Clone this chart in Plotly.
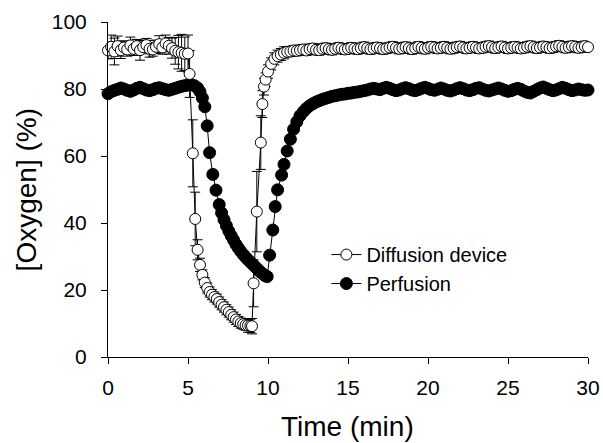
import plotly.graph_objects as go

# ---------------- data ----------------
diff_time = [
    0.0, 0.2, 0.4, 0.6, 0.8, 1.0, 1.2, 1.4, 1.6, 1.8,
    2.0, 2.2, 2.4, 2.6, 2.8, 3.0, 3.2, 3.4, 3.6, 3.8,
    4.0, 4.2, 4.4, 4.6, 4.8, 5.0,
    5.1, 5.3, 5.45, 5.6, 5.75, 5.9, 6.05, 6.2, 6.35, 6.5,
    6.65, 6.8, 6.95, 7.1, 7.25, 7.4, 7.55, 7.7, 7.85, 8.0,
    8.15, 8.3, 8.45, 8.6, 8.75, 8.9, 9.0,
    9.1, 9.3, 9.55, 9.65, 9.75, 9.85, 10.0, 10.2, 10.4, 10.6,
    10.8, 11.0, 11.2, 11.4, 11.6, 11.8,
    12.0, 12.2, 12.4, 12.6, 12.8, 13.0, 13.2, 13.4, 13.6, 13.8,
    14.0, 14.2, 14.4, 14.6, 14.8, 15.0, 15.2, 15.4, 15.6, 15.8,
    16.0, 16.2, 16.4, 16.6, 16.8, 17.0, 17.2, 17.4, 17.6, 17.8,
    18.0, 18.2, 18.4, 18.6, 18.8, 19.0, 19.2, 19.4, 19.6, 19.8,
    20.0, 20.2, 20.4, 20.6, 20.8, 21.0, 21.2, 21.4, 21.6, 21.8,
    22.0, 22.2, 22.4, 22.6, 22.8, 23.0, 23.2, 23.4, 23.6, 23.8,
    24.0, 24.2, 24.4, 24.6, 24.8, 25.0, 25.2, 25.4, 25.6, 25.8,
    26.0, 26.2, 26.4, 26.6, 26.8, 27.0, 27.2, 27.4, 27.6, 27.8,
    28.0, 28.2, 28.4, 28.6, 28.8, 29.0, 29.2, 29.4, 29.6, 29.8,
    30.0,
]
diff_oxygen = [
    91.5, 92.6, 91.2, 92.8, 91.6, 92.4, 91.8, 93.0, 92.0, 92.8,
    91.6, 92.5, 93.1, 92.0, 91.8, 92.6, 93.4, 92.4, 93.6, 92.9,
    92.2, 91.4, 91.0, 90.8, 90.5, 90.6,
    84.5, 60.8, 41.2, 32.0, 27.5, 24.5, 22.2, 20.6, 19.4, 18.6,
    17.9, 17.3, 16.4, 15.6, 14.9, 14.1, 13.4, 12.6, 11.9, 11.2,
    10.6, 10.1, 9.8, 9.5, 9.4, 9.3, 9.2,
    22.0, 43.4, 64.0, 75.5, 80.7, 82.8, 85.2, 87.5, 89.0, 89.8,
    90.3, 90.8, 91.1, 91.2, 91.5, 91.4,
    91.6, 91.8, 91.5, 91.9, 92.1, 91.7, 91.6, 92.0, 92.2, 91.9,
    91.7, 92.0, 92.3, 92.1, 91.8, 92.0, 92.3, 92.1, 91.9, 92.2,
    92.5, 92.2, 91.9, 92.1, 92.4, 92.2, 91.9, 92.1, 92.4, 92.6,
    92.3, 92.0, 92.2, 92.5, 92.2, 91.9, 92.2, 92.6, 92.3, 92.0,
    92.3, 92.6, 92.4, 92.1, 92.3, 92.6, 92.3, 92.0, 92.2, 92.5,
    92.7, 92.4, 92.1, 92.3, 92.6, 92.4, 92.1, 92.3, 92.6, 92.8,
    92.5, 92.2, 92.4, 92.7, 92.4, 92.1, 92.3, 92.6, 92.4, 92.1,
    92.3, 92.6, 92.8, 92.5, 92.2, 92.4, 92.7, 92.5, 92.2, 92.4,
    92.7, 92.9, 92.6, 92.3, 92.5, 92.8, 92.6, 92.3, 92.5, 92.8,
    92.5,
]
diff_error = [
    2.5, 3.5, 4.0, 3.0, 2.5, 2.0, 2.0, 2.5, 2.0, 2.0,
    3.0, 2.0, 2.0, 2.5, 2.0, 2.0, 2.5, 2.0, 2.5, 2.5,
    3.0, 4.0, 5.0, 5.5, 5.0, 5.5,
    7.0, 10.0, 8.0, 3.0, 2.0, 1.5, 1.5, 1.5, 1.5, 1.5,
    1.5, 1.5, 1.5, 1.5, 1.5, 1.5, 1.5, 1.5, 1.5, 1.5,
    1.5, 1.5, 1.5, 1.5, 2.0, 2.0, 2.3,
    7.0, 12.0, 8.0, 4.0, 2.5, 2.0, 2.0, 1.8, 1.8, 1.8,
    1.8, 1.8, 1.5, 1.5, 1.5, 1.5,
    1.5, 1.5, 1.5, 1.5, 1.5, 1.5, 1.5, 1.5, 1.5, 1.5,
    1.5, 1.5, 1.5, 1.5, 1.5, 1.5, 1.5, 1.5, 1.5, 1.5,
    1.5, 1.5, 1.5, 1.5, 1.5, 1.5, 1.5, 1.5, 1.5, 1.5,
    1.5, 1.5, 1.5, 1.5, 1.5, 1.5, 1.5, 1.5, 1.5, 1.5,
    1.5, 1.5, 1.5, 1.5, 1.5, 1.5, 1.5, 1.5, 1.5, 1.5,
    1.5, 1.5, 1.5, 1.5, 1.5, 1.5, 1.5, 1.5, 1.5, 1.5,
    1.5, 1.5, 1.5, 1.5, 1.5, 1.5, 1.5, 1.5, 1.5, 1.5,
    1.5, 1.5, 1.5, 1.5, 1.5, 1.5, 1.5, 1.5, 1.5, 1.5,
    1.5, 1.5, 1.5, 1.5, 1.5, 1.5, 1.5, 1.5, 1.5, 1.5,
    1.5,
]

perf_time = [
    0.0, 0.2, 0.4, 0.6, 0.8, 1.0, 1.2, 1.4, 1.6, 1.8,
    2.0, 2.2, 2.4, 2.6, 2.8, 3.0, 3.2, 3.4, 3.6, 3.8,
    4.0, 4.2, 4.4, 4.6, 4.8, 5.0,
    5.2, 5.4, 5.6, 5.75, 5.9, 6.05, 6.2, 6.35, 6.55, 6.75,
    6.95, 7.1, 7.25, 7.4, 7.55, 7.7, 7.85, 8.0, 8.15, 8.3,
    8.45, 8.6, 8.75, 8.9, 9.05, 9.2, 9.35, 9.5, 9.65, 9.8,
    9.95, 10.1, 10.3, 10.45, 10.6, 10.85,
    11.0, 11.2, 11.4, 11.6, 11.8, 12.0, 12.2, 12.4, 12.6, 12.8,
    13.0, 13.2, 13.4, 13.6, 13.8, 14.0, 14.2, 14.4, 14.6, 14.8,
    15.0, 15.2, 15.4, 15.6, 15.8, 16.0, 16.2, 16.4, 16.6, 16.8,
    17.0, 17.2, 17.4, 17.6, 17.8, 18.0, 18.2, 18.4, 18.6, 18.8,
    19.0, 19.2, 19.4, 19.6, 19.8, 20.0, 20.2, 20.4, 20.6, 20.8,
    21.0, 21.2, 21.4, 21.6, 21.8, 22.0, 22.2, 22.4, 22.6, 22.8,
    23.0, 23.2, 23.4, 23.6, 23.8, 24.0, 24.2, 24.4, 24.6, 24.8,
    25.0, 25.2, 25.4, 25.6, 25.8, 26.0, 26.2, 26.4, 26.6, 26.8,
    27.0, 27.2, 27.4, 27.6, 27.8, 28.0, 28.2, 28.4, 28.6, 28.8,
    29.0, 29.2, 29.4, 29.6, 29.8, 30.0,
]
perf_oxygen = [
    78.6, 79.2, 79.6, 79.9, 80.3, 80.0, 79.6, 79.3, 79.7, 80.2,
    80.5, 80.1, 79.7, 79.5, 79.8, 80.2, 80.4, 80.1, 79.8, 79.6,
    79.9, 80.2, 80.5, 80.8, 81.0, 81.2,
    81.3, 81.0, 80.3, 79.2, 77.3, 74.7, 69.0, 61.0, 54.5, 49.8,
    45.5, 43.0, 41.0, 39.2, 37.6, 36.2, 34.9, 33.6, 32.5, 31.5,
    30.6, 29.8, 29.0, 28.3, 27.6, 26.9, 26.2, 25.5, 24.9, 24.3,
    24.0, 30.4, 37.9, 44.9, 49.9, 54.3,
    57.5, 61.5, 65.0, 68.0, 70.2, 72.0, 73.2, 74.2, 75.0, 75.6,
    76.1, 76.5, 76.9, 77.2, 77.5, 77.8, 78.0, 78.2, 78.4, 78.5,
    78.7, 78.8, 79.0, 79.1, 79.3, 79.5, 79.7, 80.0, 80.2, 80.0,
    79.8, 80.2, 80.5, 80.2, 79.8, 79.5, 79.7, 80.1, 80.4, 80.1,
    79.7, 79.5, 79.8, 80.2, 80.5, 80.2, 79.8, 79.6, 79.9, 80.3,
    80.0, 79.6, 79.4, 79.7, 80.1, 80.4, 80.1, 79.7, 79.5, 79.8,
    80.2, 80.4, 80.0, 79.6, 79.4, 79.7, 80.0, 80.3, 80.0, 79.6,
    79.3, 79.5, 79.9, 80.2, 79.9, 79.4, 79.0, 78.8, 79.3, 79.8,
    80.3, 80.6, 80.2, 79.8, 79.5, 79.7, 80.1, 80.5, 80.2, 79.8,
    79.5, 79.7, 80.0, 79.8, 79.6, 79.7,
]

x_ticks = [0, 5, 10, 15, 20, 25, 30]
y_ticks = [0, 20, 40, 60, 80, 100]
series_names = ["Diffusion device", "Perfusion"]
x_title = "Time (min)"
y_title = "[Oxygen] (%)"

# ---------------- figure ----------------
FONT = "Arial, 'Liberation Sans', sans-serif"

fig = go.Figure()

fig.add_trace(go.Scatter(
    x=perf_time, y=perf_oxygen, name=series_names[1],
    mode="lines+markers",
    line=dict(color="black", width=1),
    marker=dict(symbol="circle", size=12, color="black",
                line=dict(color="black", width=1)),
    cliponaxis=False,
))

fig.add_trace(go.Scatter(
    x=diff_time, y=diff_oxygen, name=series_names[0],
    mode="lines+markers",
    line=dict(color="black", width=1),
    marker=dict(symbol="circle", size=11, color="white",
                line=dict(color="black", width=1)),
    error_y=dict(type="data", array=diff_error, visible=True,
                 color="black", thickness=1, width=5),
    cliponaxis=False,
))

fig.update_layout(
    width=603, height=443,
    margin=dict(l=108, r=15, t=22, b=86, autoexpand=False),
    plot_bgcolor="white", paper_bgcolor="white",
    font=dict(family=FONT, color="black", size=20),
    showlegend=True,
    legend=dict(
        x=0.455, y=0.364, xanchor="left", yanchor="top",
        traceorder="reversed",
        font=dict(family=FONT, size=20, color="black"),
        bgcolor="rgba(0,0,0,0)",
        itemwidth=30,
    ),
    xaxis=dict(
        range=[0, 30], tickvals=x_ticks, ticktext=[str(v) for v in x_ticks],
        showline=True, linecolor="black", linewidth=1,
        ticks="outside", ticklen=6, tickwidth=1, tickcolor="black",
        showgrid=False, zeroline=False, automargin=False,
        tickfont=dict(size=21), ticklabelstandoff=6,
    ),
    yaxis=dict(
        range=[0, 100], tickvals=y_ticks, ticktext=[str(v) for v in y_ticks],
        showline=True, linecolor="black", linewidth=1,
        ticks="outside", ticklen=6, tickwidth=1, tickcolor="black",
        showgrid=False, zeroline=False, automargin=False,
        tickfont=dict(size=21), ticklabelstandoff=10,
    ),
    annotations=[
        dict(text=x_title, xref="paper", yref="paper", x=0.499, y=-0.207,
             xanchor="center", yanchor="middle", showarrow=False,
             font=dict(family=FONT, size=28, color="black")),
        dict(text=y_title, xref="paper", yref="paper", x=-0.169, y=0.5,
             xanchor="center", yanchor="middle", showarrow=False, textangle=-90,
             font=dict(family=FONT, size=28, color="black")),
    ],
)

fig.write_html(
    "out.html",
    config={"displayModeBar": False},
    post_script="document.body.style.margin='0';document.body.style.padding='0';document.body.style.overflow='hidden';",
)
